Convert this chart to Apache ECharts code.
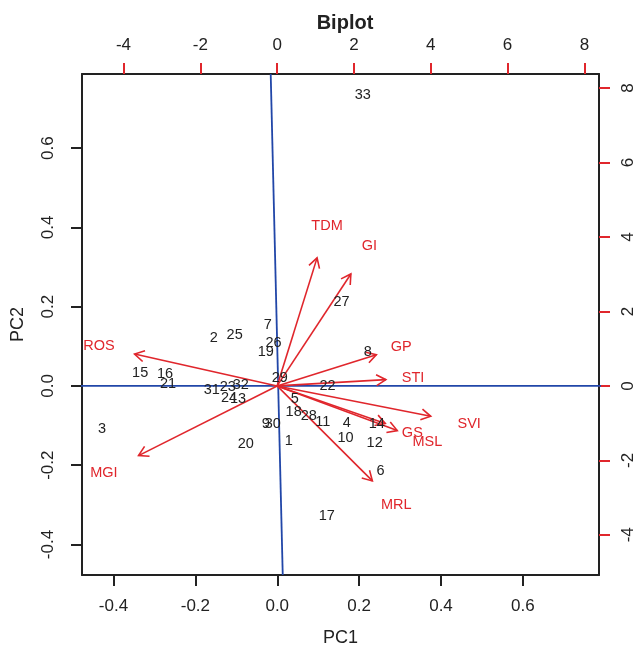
<!DOCTYPE html>
<html>
<head>
<meta charset="utf-8">
<script src="https://cdn.jsdelivr.net/npm/echarts@6/dist/echarts.min.js"></script>
<style>
html,body{margin:0;padding:0;background:#fff;}
#chart{width:641px;height:660px;}
</style>
</head>
<body>
<div id="chart"></div>
<script>
// Observation scores (PC1, PC2)
const obsLabels = ['1','2','3','4','5','6','7','8','9','10','11','12','13','14','15','16','17','18','19','20','21','22','23','24','25','26','27','28','29','30','31','32','33'];
const obsPC1 = [0.028,-0.155,-0.428,0.170,0.043,0.252,-0.023,0.221,-0.028,0.167,0.111,0.238,-0.096,0.243,-0.335,-0.274,0.121,0.040,-0.028,-0.077,-0.267,0.123,-0.121,-0.118,-0.104,-0.009,0.157,0.077,0.006,-0.011,-0.160,-0.089,0.209];
const obsPC2 = [-0.139,0.121,-0.109,-0.093,-0.033,-0.215,0.154,0.086,-0.096,-0.131,-0.091,-0.144,-0.033,-0.096,0.033,0.030,-0.328,-0.066,0.086,-0.146,0.005,0.000,-0.003,-0.030,0.129,0.109,0.212,-0.076,0.020,-0.096,-0.010,0.003,0.735];

// Variable loadings (secondary axes)
const varNames = ['TDM','GI','GP','STI','SVI','GS','MSL','MRL','ROS','MGI'];
const varX = [1.30,2.40,3.23,3.54,5.00,3.52,3.91,3.10,-4.64,-4.51];
const varY = [4.30,3.76,1.05,0.21,-1.02,-1.26,-1.50,-3.19,1.07,-2.34];
const arrowScale = 0.8;

// Tick values
const pcTicks = [-0.4,-0.2,0.0,0.2,0.4,0.6];
const loadTicks = [-4,-2,0,2,4,6,8];

// Reference lines
const refH = [[-0.491,0.0],[0.797,0.0]];
const refV = [[-0.016,0.787],[0.0134,-0.477]];

const pcMin = -0.477, pcMaxX = 0.786, pcMaxY = 0.787;
const ldMin = -5.08, ldMax = 8.38;

const RED = '#e0262c';
const BLUE = '#2146a8';
const FONT = '"Liberation Sans", Arial, sans-serif';

const chart = echarts.init(document.getElementById('chart'), null, {renderer:'canvas'});

function axisBase(extra){
  return Object.assign({
    type:'value',
    splitLine:{show:false},
    axisLine:{show:true, onZero:false, lineStyle:{color:'#222', width:2}},
  }, extra);
}
const tickFont = {fontFamily:FONT, fontSize:17, color:'#222'};

const option = {
  backgroundColor:'#fff',
  animation:false,
  title:{
    text:'Biplot', left:340, textAlign:'center', top:8,
    textStyle:{fontFamily:FONT, fontSize:20, fontWeight:'bold', color:'#222'}
  },
  grid:{left:82, top:74, width:517, height:501, containLabel:false},
  xAxis:[
    axisBase({
      position:'bottom', min:pcMin, max:pcMaxX,
      axisTick:{show:true, customValues:pcTicks, length:11, lineStyle:{color:'#222', width:2}},
      axisLabel:Object.assign({customValues:pcTicks, margin:23, formatter:v=>v.toFixed(1)}, tickFont),
      name:'PC1', nameLocation:'middle', nameGap:54,
      nameTextStyle:{fontFamily:FONT, fontSize:18, color:'#222'}
    }),
    axisBase({
      position:'top', min:ldMin, max:ldMax,
      axisTick:{show:true, customValues:loadTicks, length:11, lineStyle:{color:RED, width:2}},
      axisLabel:Object.assign({customValues:loadTicks, margin:20, formatter:v=>String(v)}, tickFont)
    })
  ],
  yAxis:[
    axisBase({
      position:'left', min:pcMin, max:pcMaxY,
      axisTick:{show:true, customValues:pcTicks, length:11, lineStyle:{color:'#222', width:2}},
      axisLabel:Object.assign({customValues:pcTicks, rotate:90, margin:25, formatter:v=>v.toFixed(1)}, tickFont),
      name:'PC2', nameLocation:'middle', nameGap:55, nameRotate:90,
      nameTextStyle:{fontFamily:FONT, fontSize:18, color:'#222'}
    }),
    axisBase({
      position:'right', min:ldMin, max:ldMax,
      axisTick:{show:true, customValues:loadTicks, length:11, lineStyle:{color:RED, width:2}},
      axisLabel:Object.assign({customValues:loadTicks, rotate:90, margin:21, formatter:v=>String(v)}, tickFont)
    })
  ],
  series:[
    {
      type:'line', xAxisIndex:0, yAxisIndex:0, data:refH, symbol:'none', clip:false,
      lineStyle:{color:BLUE, width:1.8}, z:1
    },
    {
      type:'line', xAxisIndex:0, yAxisIndex:0, data:refV, symbol:'none', clip:false,
      lineStyle:{color:BLUE, width:1.8}, z:1
    },
    {
      type:'custom', xAxisIndex:1, yAxisIndex:1, clip:false, z:3,
      data: varX.map((x,i)=>[x, varY[i]]),
      renderItem:function(params, api){
        const x = api.value(0)*arrowScale, y = api.value(1)*arrowScale;
        const p0 = api.coord([0,0]);
        const p1 = api.coord([x,y]);
        const ang = Math.atan2(p1[1]-p0[1], p1[0]-p0[0]);
        const L = 11, a = Math.PI/6;
        const h1 = [p1[0]-L*Math.cos(ang-a), p1[1]-L*Math.sin(ang-a)];
        const h2 = [p1[0]-L*Math.cos(ang+a), p1[1]-L*Math.sin(ang+a)];
        const st = {stroke:RED, lineWidth:1.6, fill:null};
        return {type:'group', children:[
          {type:'line', shape:{x1:p0[0],y1:p0[1],x2:p1[0],y2:p1[1]}, style:st},
          {type:'polyline', shape:{points:[h1,p1,h2]}, style:st}
        ]};
      }
    },
    {
      type:'custom', xAxisIndex:1, yAxisIndex:1, clip:false, z:4,
      data: varX.map((x,i)=>[x, varY[i]]),
      renderItem:function(params, api){
        const p = api.coord([api.value(0), api.value(1)]);
        return {type:'text', x:p[0], y:p[1], style:{
          text: varNames[params.dataIndex], fill:RED, font:'14.5px '+FONT,
          align:'center', verticalAlign:'middle'
        }};
      }
    },
    {
      type:'custom', xAxisIndex:0, yAxisIndex:0, clip:false, z:5,
      data: obsPC1.map((x,i)=>[x, obsPC2[i]]),
      renderItem:function(params, api){
        const p = api.coord([api.value(0), api.value(1)]);
        return {type:'text', x:p[0], y:p[1], style:{
          text: obsLabels[params.dataIndex], fill:'#222', font:'14.5px '+FONT,
          align:'center', verticalAlign:'middle'
        }};
      }
    }
  ]
};
chart.setOption(option);
</script>
</body>
</html>
